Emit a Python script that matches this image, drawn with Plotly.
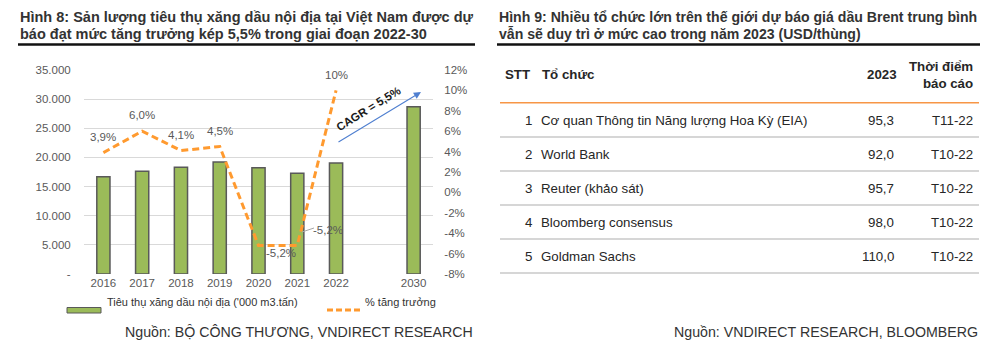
import plotly.graph_objects as go

# ---------------- data ----------------
years = ["2016", "2017", "2018", "2019", "2020", "2021", "2022", "2030"]
consumption = [16700, 17650, 18300, 19200, 18250, 17300, 19050, 28700]
growth_years = ["2016", "2017", "2018", "2019", "2020", "2021", "2022"]
growth_pct = [3.9, 6.0, 4.1, 4.5, -5.2, -5.2, 10.0]
growth_labels = ["3,9%", "6,0%", "4,1%", "4,5%", "-5,2%", "-5,2%", "10%"]
left_ticks = [0, 5000, 10000, 15000, 20000, 25000, 30000, 35000]
left_ticktext = ["-", "5.000", "10.000", "15.000", "20.000", "25.000", "30.000", "35.000"]
right_ticks = [-8, -6, -4, -2, 0, 2, 4, 6, 8, 10, 12]
right_ticktext = ["-8%", "-6%", "-4%", "-2%", "0%", "2%", "4%", "6%", "8%", "10%", "12%"]
bar_name = "Tiêu thụ xăng dầu nội địa ('000 m3.tấn)"
line_name = "% tăng trưởng"
cagr_text = "CAGR = 5,5%"

title_left = ["Hình 8: Sản lượng tiêu thụ xăng dầu nội địa tại Việt Nam được dự",
              "báo đạt mức tăng trưởng kép 5,5% trong giai đoạn 2022-30"]
title_right = ["Hình 9: Nhiều tổ chức lớn trên thế giới dự báo giá dầu Brent trung bình",
               "vẫn sẽ duy trì ở mức cao trong năm 2023 (USD/thùng)"]
source_left = "Nguồn: BỘ CÔNG THƯƠNG, VNDIRECT RESEARCH"
source_right = "Nguồn: VNDIRECT RESEARCH, BLOOMBERG"

tbl_stt = ["1", "2", "3", "4", "5"]
tbl_org = ["Cơ quan Thông tin Năng lượng Hoa Kỳ (EIA)", "World Bank", "Reuter (khảo sát)",
           "Bloomberg consensus", "Goldman Sachs"]
tbl_2023 = ["95,3", "92,0", "95,7", "98,0", "110,0"]
tbl_date = ["T11-22", "T10-22", "T10-22", "T10-22", "T10-22"]
tbl_headers = ["STT", "Tổ chức", "2023", "Thời điểm<br>báo cáo"]

# ---------------- helpers ----------------
W, H = 1000, 355
FONT = "Liberation Sans, Arial, sans-serif"
def px(x):
    return x / W
def py(y):
    return 1 - y / H

# slot positions on the category axis: one empty slot between 2022 and 2030
slot = {}
k = 0
for i, yv in enumerate(years):
    if yv == "2030":
        k += 1
    slot[yv] = k
    k += 1
bar_x = [slot[v] for v in years]
line_x = [slot[v] for v in growth_years]

fig = go.Figure()
fig.add_trace(go.Bar(
    x=bar_x, y=consumption, name=bar_name, width=0.34,
    marker=dict(color="#9BBB59", line=dict(color="#595959", width=1.5)),
    xaxis="x", yaxis="y", showlegend=False, hoverinfo="skip"))
fig.add_trace(go.Scatter(
    x=line_x, y=growth_pct, name=line_name, mode="lines",
    line=dict(color="#FF9A2F", width=3, dash="7px,4px"),
    xaxis="x", yaxis="y2", showlegend=False, hoverinfo="skip"))

ann = []
# data labels for growth line (offsets in px)
offsets = [(0, 16), (0, 16), (0, 16), (0, 16), (22, -8), (31, 15), (0, 15)]
for xv, v, lab, (dx, dy) in zip(line_x, growth_pct, growth_labels, offsets):
    ann.append(dict(x=xv, y=v, xref="x", yref="y2", text=lab, showarrow=False,
                    xshift=dx, yshift=dy, font=dict(family=FONT, size=11.5, color="#595959")))
# leader line for 2021 label
fig.add_shape(type="line", xref="paper", yref="paper",
              x0=px(302), y0=py(232), x1=px(314), y1=py(228),
              line=dict(color="#A6A6A6", width=1))

# CAGR arrow
ann.append(dict(x=px(421), y=py(92), ax=337 - 421, ay=143 - 92, xref="paper", yref="paper",
                axref="pixel", ayref="pixel", text="", showarrow=True, arrowhead=2,
                arrowsize=1.3, arrowwidth=1.1, arrowcolor="#4F7FD0"))
ann.append(dict(x=px(368), y=py(82), xref="paper", yref="paper", text="<b>" + cagr_text + "</b>",
                showarrow=False, textangle=-32, font=dict(family=FONT, size=11.5, color="#1A1A1A")))

# titles
for i, t in enumerate(title_left):
    ann.append(dict(x=px(18), y=py(17 + 17 * i), xref="paper", yref="paper", text="<b>" + t + "</b>",
                    xanchor="left", yanchor="middle", showarrow=False,
                    font=dict(family=FONT, size=14.5, color="#333333")))
for i, t in enumerate(title_right):
    ann.append(dict(x=px(497), y=py(17 + 17 * i), xref="paper", yref="paper", text="<b>" + t + "</b>",
                    xanchor="left", yanchor="middle", showarrow=False,
                    font=dict(family=FONT, size=14.1, color="#333333")))
fig.add_shape(type="line", xref="paper", yref="paper", x0=px(18), x1=px(475), y0=py(44.5), y1=py(44.5),
              line=dict(color="#111111", width=2.5))
fig.add_shape(type="line", xref="paper", yref="paper", x0=px(497), x1=px(980), y0=py(44.5), y1=py(44.5),
              line=dict(color="#111111", width=2.5))

# legend (custom)
fig.add_shape(type="rect", xref="paper", yref="paper", x0=px(67), x1=px(101), y0=py(313), y1=py(307.5),
              fillcolor="#9BBB59", line=dict(color="#595959", width=1))
fig.add_shape(type="line", xref="paper", yref="paper", x0=px(327), x1=px(361), y0=py(310), y1=py(310),
              line=dict(color="#FF9A2F", width=3, dash="6px,3px"))
ann.append(dict(x=px(105), y=py(310), xref="paper", yref="paper", text=bar_name, xanchor="left",
                showarrow=False, font=dict(family=FONT, size=11, color="#333333")))
ann.append(dict(x=px(363), y=py(310), xref="paper", yref="paper", text=line_name, xanchor="left",
                showarrow=False, font=dict(family=FONT, size=11, color="#333333")))

# sources
ann.append(dict(x=px(475), y=py(342), xref="paper", yref="paper", text=source_left, xanchor="right",
                showarrow=False, font=dict(family=FONT, size=14.2, color="#333333")))
ann.append(dict(x=px(980), y=py(342), xref="paper", yref="paper", text=source_right, xanchor="right",
                showarrow=False, font=dict(family=FONT, size=14.2, color="#333333")))

# ---------------- table (on invisible axes x2/y3, rows as y values) ----------------
tfont = dict(family=FONT, size=13.3, color="#262626")
hfont = dict(family=FONT, size=13.3, color="#262626")
hdr_y = -0.35
ann.append(dict(x=503, y=hdr_y, xref="x2", yref="y3", text="<b>" + tbl_headers[0] + "</b>",
                xanchor="left", showarrow=False, font=hfont))
ann.append(dict(x=540, y=hdr_y, xref="x2", yref="y3", text="<b>" + tbl_headers[1] + "</b>",
                xanchor="left", showarrow=False, font=hfont))
ann.append(dict(x=899, y=hdr_y, xref="x2", yref="y3", text="<b>" + tbl_headers[2] + "</b>",
                xanchor="right", showarrow=False, font=hfont))
ann.append(dict(x=975, y=hdr_y, xref="x2", yref="y3", text="<b>" + tbl_headers[3] + "</b>",
                xanchor="right", align="right", showarrow=False, font=hfont))
fig.add_shape(type="line", xref="x2", yref="y3", x0=500, x1=979, y0=0.47, y1=0.47,
              line=dict(color="#F79646", width=1.5))
for i in range(len(tbl_org)):
    r = i + 1
    ann.append(dict(x=534, y=r, xref="x2", yref="y3", text=tbl_stt[i], xanchor="right",
                    showarrow=False, font=tfont))
    ann.append(dict(x=539, y=r, xref="x2", yref="y3", text=tbl_org[i], xanchor="left",
                    showarrow=False, font=tfont))
    ann.append(dict(x=896, y=r, xref="x2", yref="y3", text=tbl_2023[i], xanchor="right",
                    showarrow=False, font=tfont))
    ann.append(dict(x=975, y=r, xref="x2", yref="y3", text=tbl_date[i], xanchor="right",
                    showarrow=False, font=tfont))
    fig.add_shape(type="line", xref="x2", yref="y3", x0=500, x1=979, y0=r + 0.48, y1=r + 0.48,
                  line=dict(color="#C8C8C8", width=1.5))

fig.update_layout(
    width=W, height=H, margin=dict(l=0, r=0, t=0, b=0, pad=0, autoexpand=False),
    paper_bgcolor="white", plot_bgcolor="white",
    showlegend=False,
    font=dict(family=FONT),
    annotations=ann,
    xaxis=dict(domain=[px(84), px(433)], range=[-0.5, 8.5], tickvals=[slot[v] for v in years],
               ticktext=years, showgrid=False, showline=False, zeroline=False, ticks="",
               tickfont=dict(family=FONT, size=11.5, color="#595959"), anchor="y", automargin=False),
    yaxis=dict(domain=[py(274), py(70)], range=[0, 35000], tickvals=left_ticks, ticktext=left_ticktext,
               showgrid=True, gridcolor="#D9D9D9", gridwidth=1.2, zeroline=False, showline=False,
               ticks="outside", ticklen=10, tickcolor="rgba(0,0,0,0)", automargin=False,
               tickfont=dict(family=FONT, size=11.5, color="#595959"), anchor="x"),
    yaxis2=dict(overlaying="y", side="right", range=[-8, 12], tickvals=right_ticks,
                ticktext=right_ticktext, showgrid=False, zeroline=False, showline=False,
                ticks="outside", ticklen=8, tickcolor="rgba(0,0,0,0)", automargin=False,
                tickfont=dict(family=FONT, size=11.5, color="#595959"), anchor="x"),
    xaxis2=dict(domain=[px(500), px(980)], range=[500, 980], visible=False, anchor="y3",
                fixedrange=True, automargin=False),
    yaxis3=dict(domain=[py(290), py(55)], range=[1 + (290 - 120.7) / 34, 1 + (55 - 120.7) / 34],
                visible=False, anchor="x2", fixedrange=True, automargin=False),
)

fig.write_html("out.html", post_script="document.body.style.margin='0';",
               config={"displayModeBar": False})
